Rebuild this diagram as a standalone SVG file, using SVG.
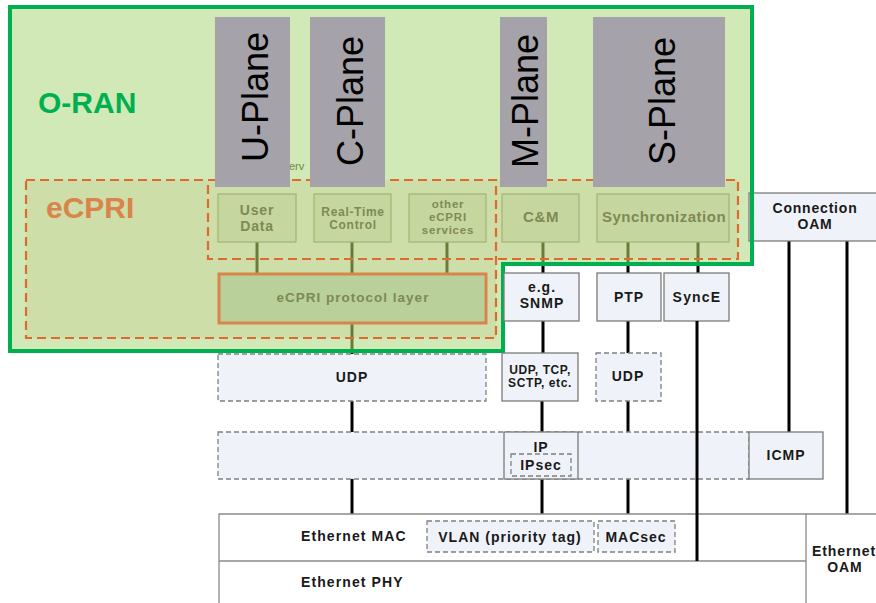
<svg xmlns="http://www.w3.org/2000/svg" width="876" height="603" viewBox="0 0 876 603">
  <style>
    text { font-family: "Liberation Sans", Arial, sans-serif; font-weight: bold; }
    .olv { fill: #7d8a54; text-anchor: middle; }
    .blk { fill: #1a1a1a; text-anchor: middle; font-size: 14px; letter-spacing: 1px; }
    .plane { fill: #a5a2a9; }
    .ptxt { font-weight: normal; font-size: 36px; fill: #000; text-anchor: middle; }
    .svc { fill: #c6d69f; stroke: #a2b277; stroke-width: 1.2; }
    .solid { fill: #eff3f9; stroke: #7a7a7a; stroke-width: 1.3; }
    .dash { fill: #eff3f9; stroke: #808080; stroke-width: 1.3; stroke-dasharray: 5 3; }
    .frame { fill: #ffffff; stroke: #8a8a8a; stroke-width: 1.3; }
    .ecpri { fill: none; stroke: #e0692e; stroke-width: 2.2; stroke-dasharray: 9 5; }
    .ln { stroke: #000; stroke-width: 3; fill: none; }
    .lo { stroke: #6b7b3b; stroke-width: 3; fill: none; }
  </style>

  <!-- O-RAN area background -->
  <path id="oran-fill" d="M10,7 H752 V264 H503 V351 H10 Z" fill="#d0e9b6"/>
  <!-- eCPRI area tint -->
  <rect x="26" y="180" width="470" height="158" fill="#cedea9"/>
  <rect x="208" y="180" width="530" height="79" fill="#cedea9"/>

  <!-- partially hidden caption between the plane bars -->
  <text x="289" y="170" style="font-size:11px;font-weight:normal;fill:#6f8a40">erv</text>

  <!-- connectors -->
  <g id="connectors">
    <!-- inside O-RAN area (tinted) -->
    <line class="lo" x1="257" y1="242" x2="257" y2="274"/>
    <line class="lo" x1="352" y1="242" x2="352" y2="274"/>
    <line class="lo" x1="447" y1="242" x2="447" y2="274"/>
    <line class="lo" x1="352" y1="323" x2="352" y2="350"/>
    <line class="lo" x1="543" y1="242" x2="543" y2="263"/>
    <line class="lo" x1="628" y1="242" x2="628" y2="263"/>
    <line class="lo" x1="698" y1="242" x2="698" y2="263"/>
    <!-- below O-RAN area -->
    <line class="ln" x1="352" y1="350" x2="352" y2="354"/>
    <line class="ln" x1="543" y1="263" x2="543" y2="273"/>
    <line class="ln" x1="628" y1="263" x2="628" y2="273"/>
    <line class="ln" x1="698" y1="263" x2="698" y2="273"/>
    <line class="ln" x1="543" y1="321" x2="543" y2="353"/>
    <line class="ln" x1="628" y1="321" x2="628" y2="353"/>
    <line class="ln" x1="352" y1="401" x2="352" y2="432"/>
    <line class="ln" x1="542" y1="401" x2="542" y2="432"/>
    <line class="ln" x1="628" y1="401" x2="628" y2="432"/>
    <line class="ln" x1="352" y1="479" x2="352" y2="514"/>
    <line class="ln" x1="542" y1="479" x2="542" y2="514"/>
    <line class="ln" x1="628" y1="479" x2="628" y2="514"/>
    <line class="ln" x1="789" y1="241" x2="789" y2="432"/>
    <line class="ln" x1="847" y1="241" x2="847" y2="514"/>
  </g>

  <!-- eCPRI services -->
  <g id="user-data">
    <rect class="svc" x="218" y="194" width="78" height="48"/>
    <text class="olv" x="257" y="215" style="font-size:14px;letter-spacing:0.8px">User</text>
    <text class="olv" x="257" y="231" style="font-size:14px;letter-spacing:0.8px">Data</text>
  </g>
  <g id="real-time-control">
    <rect class="svc" x="314" y="194" width="77" height="48"/>
    <text class="olv" x="353" y="216" style="font-size:12px;letter-spacing:0.7px">Real-Time</text>
    <text class="olv" x="353" y="229" style="font-size:12px;letter-spacing:0.7px">Control</text>
  </g>
  <g id="other-services">
    <rect class="svc" x="409" y="194" width="77" height="48"/>
    <text class="olv" x="448" y="208" style="font-size:11.5px;letter-spacing:0.8px">other</text>
    <text class="olv" x="448" y="221" style="font-size:11.5px;letter-spacing:0.8px">eCPRI</text>
    <text class="olv" x="448" y="234" style="font-size:11.5px;letter-spacing:0.8px">services</text>
  </g>
  <g id="c-and-m">
    <rect class="svc" x="502" y="194" width="77" height="48"/>
    <text class="olv" x="541" y="222" style="font-size:15px;letter-spacing:0.6px">C&amp;M</text>
  </g>
  <g id="synchronization">
    <rect class="svc" x="597" y="194" width="132" height="48"/>
    <text class="olv" x="664" y="222" style="font-size:15px;letter-spacing:0.5px">Synchronization</text>
  </g>

  <g id="ecpri-protocol-layer">
    <rect x="219" y="274" width="267" height="49" fill="#b9d09b" stroke="#d9844a" stroke-width="3"/>
    <text class="olv" x="353" y="302" style="font-size:13.5px;letter-spacing:1px">eCPRI protocol layer</text>
  </g>

  <!-- eCPRI dashed outlines -->
  <g id="ecpri">
    <rect class="ecpri" x="26" y="180" width="470" height="158"/>
    <rect class="ecpri" x="208" y="180" width="530" height="79"/>
    <text x="46" y="218" style="font-size:30px;fill:#d9844a">eCPRI</text>
  </g>

  <!-- Connection OAM -->
  <g id="connection-oam">
    <rect class="solid" x="749" y="193" width="140" height="48"/>
    <text class="blk" x="815" y="213" style="letter-spacing:0.8px">Connection</text>
    <text class="blk" x="815" y="229" style="letter-spacing:0.8px">OAM</text>
  </g>

  <!-- O-RAN border -->
  <g id="oran">
    <path d="M10,7 H752 V264 H503 V351 H10 Z" fill="none" stroke="#00b050" stroke-width="4"/>
    <text x="38" y="113" style="font-size:30px;fill:#00b050">O-RAN</text>
  </g>

  <!-- planes -->
  <g id="u-plane">
    <rect class="plane" x="215" y="17" width="75" height="170"/>
    <text class="ptxt" transform="translate(268,97) rotate(-90)">U-Plane</text>
  </g>
  <g id="c-plane">
    <rect class="plane" x="310" y="17" width="75" height="170"/>
    <text class="ptxt" transform="translate(363,101) rotate(-90)">C-Plane</text>
  </g>
  <g id="m-plane">
    <rect class="plane" x="500" y="17" width="47" height="170"/>
    <text class="ptxt" transform="translate(538,101) rotate(-90)">M-Plane</text>
  </g>
  <g id="s-plane">
    <rect class="plane" x="593" y="17" width="132" height="170"/>
    <text class="ptxt" transform="translate(675,101) rotate(-90)">S-Plane</text>
  </g>

  <!-- transport stack -->
  <g id="snmp">
    <rect class="solid" x="504" y="273" width="75" height="48"/>
    <text class="blk" x="542" y="292">e.g.</text>
    <text class="blk" x="542" y="308">SNMP</text>
  </g>
  <g id="ptp">
    <rect class="solid" x="597" y="273" width="64" height="48"/>
    <text class="blk" x="629" y="302">PTP</text>
  </g>
  <g id="synce">
    <rect class="solid" x="664" y="273" width="65" height="48"/>
    <text class="blk" x="697" y="302" style="letter-spacing:1.2px">SyncE</text>
  </g>

  <g id="udp-ecpri">
    <rect class="dash" x="218" y="354" width="268" height="47"/>
    <text class="blk" x="352" y="382">UDP</text>
  </g>
  <g id="udp-tcp">
    <rect class="solid" x="502" y="353" width="76" height="48"/>
    <text class="blk" x="540" y="374" style="font-size:12px;letter-spacing:0.6px">UDP, TCP,</text>
    <text class="blk" x="540" y="387" style="font-size:12px;letter-spacing:0.6px">SCTP, etc.</text>
  </g>
  <g id="udp-ptp">
    <rect class="dash" x="596" y="353" width="65" height="48"/>
    <text class="blk" x="628" y="381">UDP</text>
  </g>

  <g id="ip-layer">
    <rect class="dash" x="218" y="432" width="531" height="47"/>
  </g>
  <g id="ip">
    <rect class="solid" x="504" y="432" width="74" height="47"/>
    <text class="blk" x="541" y="452">IP</text>
    <rect class="dash" x="511" y="454" width="60" height="22"/>
    <text class="blk" x="541" y="470">IPsec</text>
  </g>
  <g id="icmp">
    <rect class="solid" x="749" y="432" width="74" height="47"/>
    <text class="blk" x="786" y="460">ICMP</text>
  </g>

  <g id="ethernet">
    <path class="frame" d="M219,604 V514 H880 M219,561 H806 M806,514 V604"/>
    <text class="blk" x="301" y="541" style="text-anchor:start;letter-spacing:1.1px">Ethernet MAC</text>
    <text class="blk" x="301" y="587" style="text-anchor:start;letter-spacing:1.1px">Ethernet PHY</text>
  </g>
  <g id="vlan">
    <rect class="dash" x="427" y="521" width="167" height="31"/>
    <text class="blk" x="510" y="542">VLAN (priority tag)</text>
  </g>
  <g id="macsec">
    <rect class="dash" x="598" y="521" width="77" height="31"/>
    <text class="blk" x="636" y="542">MACsec</text>
  </g>
  <g id="ethernet-oam">
    <text class="blk" x="812" y="556" style="text-anchor:start;letter-spacing:0.9px">Ethernet</text>
    <text class="blk" x="845" y="572" style="letter-spacing:0.9px">OAM</text>
  </g>

  <!-- SyncE line runs through the IP layer -->
  <line class="ln" x1="697" y1="321" x2="697" y2="561"/>
</svg>
